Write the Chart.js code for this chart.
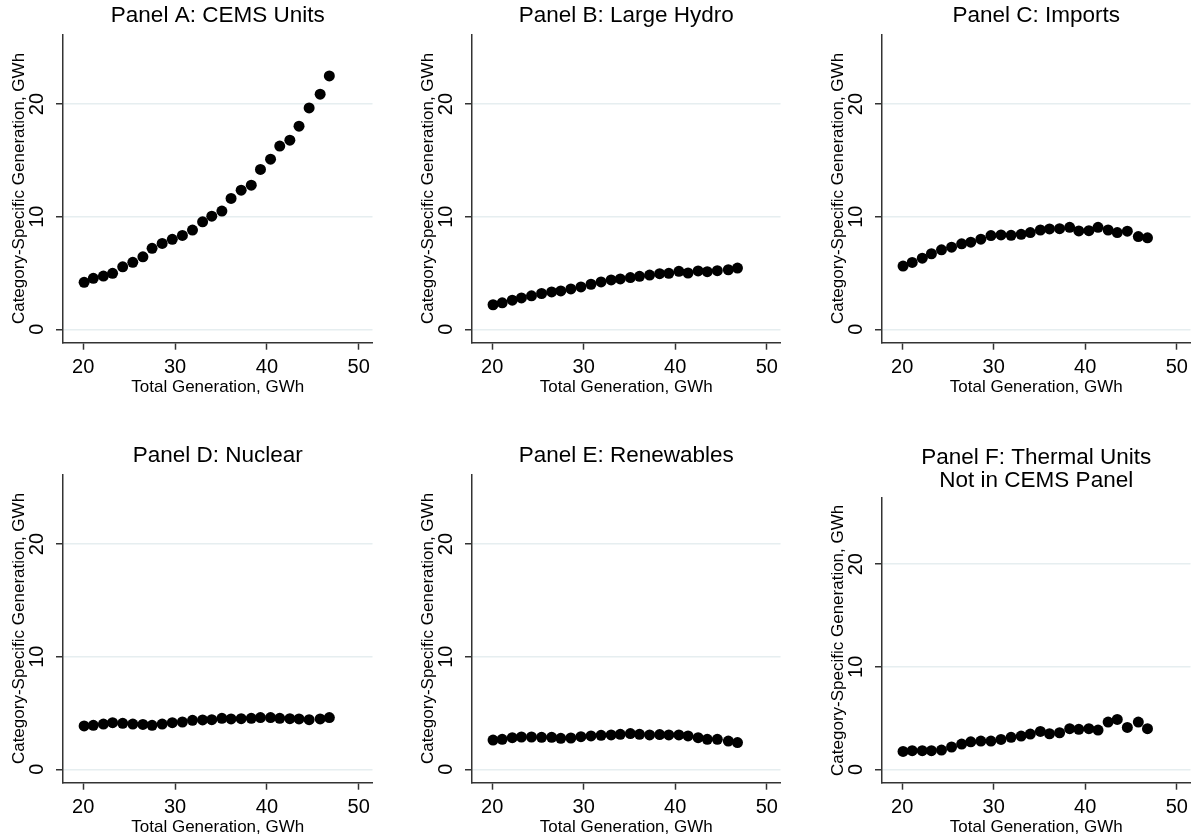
<!DOCTYPE html>
<html>
<head>
<meta charset="utf-8">
<title>Generation by category</title>
<script src="https://cdn.jsdelivr.net/npm/chart.js@4.4.1/dist/chart.umd.min.js"></script>
<style>
  html, body { margin: 0; padding: 0; background: #fff; overflow: hidden; }
  body { width: 1195px; height: 840px; position: relative; }
  canvas { position: absolute; }
</style>
</head>
<body>
<script>
// Total generation bins (x), GWh
const totalGen = [20.1, 21.1, 22.2, 23.2, 24.3, 25.4, 26.5, 27.5, 28.6, 29.7, 30.8, 31.9, 33.0,
  34.0, 35.1, 36.1, 37.2, 38.3, 39.3, 40.4, 41.4, 42.5, 43.5, 44.6, 45.8, 46.8];

// Category-specific generation (y), GWh
const cemsUnits = [4.17, 4.53, 4.73, 4.97, 5.55, 5.95, 6.44, 7.19, 7.63, 7.99, 8.34, 8.81, 9.55,
  10.05, 10.5, 11.62, 12.36, 12.8, 14.2, 15.11, 16.27, 16.8, 18.04, 19.66, 20.88, 22.5];
const largeHydro = [2.18, 2.35, 2.59, 2.79, 2.97, 3.18, 3.32, 3.41, 3.59, 3.76, 4.0, 4.21, 4.38,
  4.47, 4.59, 4.71, 4.82, 4.94, 4.97, 5.15, 5.0, 5.18, 5.12, 5.21, 5.29, 5.44];
const imports = [5.62, 5.94, 6.32, 6.71, 7.06, 7.29, 7.59, 7.74, 8.0, 8.32, 8.38, 8.35, 8.44,
  8.59, 8.82, 8.91, 8.94, 9.06, 8.74, 8.76, 9.06, 8.82, 8.59, 8.71, 8.24, 8.12];
const nuclear = [3.85, 3.91, 4.02, 4.14, 4.08, 4.02, 3.99, 3.91, 4.02, 4.14, 4.2, 4.35, 4.38,
  4.41, 4.53, 4.47, 4.5, 4.53, 4.59, 4.59, 4.53, 4.5, 4.47, 4.41, 4.47, 4.59];
const renewables = [2.6, 2.66, 2.81, 2.87, 2.87, 2.84, 2.84, 2.75, 2.78, 2.9, 2.96, 3.02, 3.05,
  3.11, 3.17, 3.11, 3.05, 3.08, 3.05, 3.05, 2.96, 2.81, 2.66, 2.66, 2.51, 2.37];
const thermalNonCems = [1.75, 1.82, 1.82, 1.82, 1.88, 2.18, 2.47, 2.69, 2.76, 2.76, 2.92, 3.12, 3.25,
  3.44, 3.7, 3.47, 3.57, 3.96, 3.9, 3.96, 3.83, 4.61, 4.87, 4.09, 4.61, 3.96];

const xTicks = [20, 30, 40, 50];
const yTicks = [0, 10, 20];

const FONT = "'Liberation Sans', Arial, Helvetica, sans-serif";
const AXIS_COLOR = "#333";
const GRID_COLOR = "#e6eef0";
const Y_AXIS_WIDTH = 63;
const X_AXIS_HEIGHT = 57.3;

// plot areas in page pixels: [left, top, right, bottom]
const panels = [
  { title: "Panel A: CEMS Units", values: cemsUnits, area: [63, 34.3, 372.5, 342.7], yMin: -1.19, yMax: 26.2 },
  { title: "Panel B: Large Hydro", values: largeHydro, area: [472.3, 34.3, 781.7, 342.7], yMin: -1.19, yMax: 26.2 },
  { title: "Panel C: Imports", values: imports, area: [881.7, 34.3, 1190.5, 342.7], yMin: -1.19, yMax: 26.2 },
  { title: "Panel D: Nuclear", values: nuclear, area: [63, 474.7, 372.5, 783.3], yMin: -1.19, yMax: 26.2 },
  { title: "Panel E: Renewables", values: renewables, area: [472.3, 474.7, 781.7, 783.3], yMin: -1.19, yMax: 26.2 },
  { title: ["Panel F: Thermal Units", "Not in CEMS Panel"], values: thermalNonCems, area: [881.7, 498.3, 1190.5, 783.3], yMin: -1.3, yMax: 26.45 },
];

panels.forEach((panel) => {
  const [left, top, right, bottom] = panel.area;
  const lines = Array.isArray(panel.title) ? panel.title.length : 1;
  const lineHeight = lines > 1 ? 23 : 26.4;
  const titleBlock = lines > 1 ? 55 : 34.3;

  const canvas = document.createElement("canvas");
  const canvasLeft = left - Y_AXIS_WIDTH;
  const canvasTop = top - titleBlock;
  const width = Math.round(right + 5 - canvasLeft);
  const height = Math.round(bottom + X_AXIS_HEIGHT - canvasTop);
  canvas.width = width;
  canvas.height = height;
  canvas.style.left = canvasLeft + "px";
  canvas.style.top = canvasTop + "px";
  canvas.style.width = width + "px";
  canvas.style.height = height + "px";
  document.body.appendChild(canvas);

  new Chart(canvas, {
    type: "scatter",
    data: {
      datasets: [
        {
          data: totalGen.map((x, i) => ({ x: x, y: panel.values[i] })),
          backgroundColor: "#000",
          borderWidth: 0,
          pointRadius: 5.5,
          pointHoverRadius: 5.5,
        },
      ],
    },
    options: {
      responsive: false,
      animation: false,
      devicePixelRatio: 1,
      layout: { padding: { top: 0, left: 0, bottom: 0, right: width - (right - canvasLeft) } },
      plugins: {
        legend: { display: false },
        tooltip: { enabled: false },
        title: {
          display: true,
          fullSize: false, // centre over the plot area, as in the original
          text: panel.title,
          color: "#000",
          font: { family: FONT, size: 22.5, weight: "normal", lineHeight: lineHeight / 22.5 },
          padding: { top: 3, bottom: titleBlock - 3 - lines * lineHeight },
        },
      },
      scales: {
        x: {
          type: "linear",
          min: 17.8,
          max: 51.5,
          afterBuildTicks: (scale) => {
            scale.ticks = xTicks.map((v) => ({ value: v }));
          },
          afterFit: (scale) => {
            scale.height = X_AXIS_HEIGHT;
          },
          grid: {
            drawOnChartArea: false,
            tickLength: 7,
            tickColor: AXIS_COLOR,
            tickWidth: 1.5,
          },
          border: { display: true, color: AXIS_COLOR, width: 1.5 },
          ticks: {
            color: "#000",
            font: { family: FONT, size: 20 },
            padding: 6,
            maxRotation: 0,
          },
          title: {
            display: true,
            text: "Total Generation, GWh",
            color: "#000",
            font: { family: FONT, size: 17 },
            padding: { top: 0, bottom: 2.5 },
          },
        },
        y: {
          type: "linear",
          min: panel.yMin,
          max: panel.yMax,
          afterBuildTicks: (scale) => {
            scale.ticks = yTicks.map((v) => ({ value: v }));
          },
          afterFit: (scale) => {
            scale.width = Y_AXIS_WIDTH;
          },
          grid: {
            color: GRID_COLOR,
            lineWidth: 1.5,
            tickLength: 7,
            tickColor: AXIS_COLOR,
            tickWidth: 1.5,
          },
          border: { display: true, color: AXIS_COLOR, width: 1.5 },
          ticks: {
            color: "#000",
            font: { family: FONT, size: 20 },
            minRotation: 90,
            maxRotation: 90,
            crossAlign: "center",
            padding: 7,
          },
          title: {
            display: true,
            text: "Category-Specific Generation, GWh",
            color: "#000",
            font: { family: FONT, size: 17 },
            padding: { top: 9, bottom: 0 },
          },
        },
      },
    },
  });
});
</script>
</body>
</html>
